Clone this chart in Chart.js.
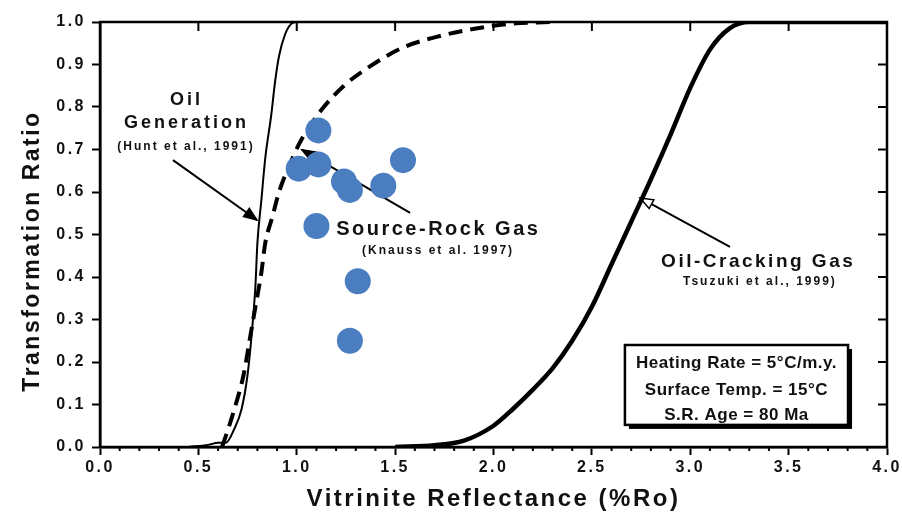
<!DOCTYPE html>
<html lang="en">
<head>
<meta charset="UTF-8">
<title>Transformation Ratio vs Vitrinite Reflectance</title>
<script src="https://cdn.jsdelivr.net/npm/chart.js"></script>
<style>
    body { margin: 0; background: #fff; }
    #wrap { width: 902px; height: 517px; position: relative; }
</style>
</head>
<body>
<div id="wrap"><canvas id="chart"></canvas></div>
<script>
    // Oil generation (Hunt et al., 1991) - thin solid line
    const oilGenX = [0.45, 0.55, 0.60, 0.64, 0.68, 0.72, 0.75, 0.77, 0.79, 0.80, 0.82, 0.84, 0.87, 0.89, 0.91, 0.94, 0.97, 1.00, 4.00];
    const oilGenY = [0.00, 0.005, 0.01, 0.01, 0.04, 0.09, 0.17, 0.26, 0.38, 0.48, 0.58, 0.68, 0.78, 0.86, 0.92, 0.97, 0.995, 1.00, 1.00];

    // Source-rock gas (Knauss et al. 1997) - dashed line
    const srGasX = [0.62, 0.65, 0.69, 0.73, 0.76, 0.79, 0.82, 0.84, 0.875, 0.91, 0.96, 1.02, 1.12, 1.24, 1.37, 1.54, 1.71, 1.88, 2.07, 2.30];
    const srGasY = [0.00, 0.04, 0.10, 0.17, 0.25, 0.33, 0.41, 0.48, 0.54, 0.60, 0.66, 0.72, 0.79, 0.85, 0.895, 0.94, 0.965, 0.982, 0.995, 1.00];

    // Oil-cracking gas (Tsuzuki et al., 1999) - thick solid line
    const crackX = [1.50, 1.70, 1.85, 2.00, 2.10, 2.20, 2.30, 2.40, 2.50, 2.60, 2.70, 2.80, 2.90, 3.00, 3.10, 3.20, 3.30, 4.00];
    const crackY = [0.00, 0.004, 0.015, 0.05, 0.09, 0.135, 0.185, 0.25, 0.33, 0.43, 0.53, 0.63, 0.735, 0.845, 0.935, 0.985, 1.00, 1.00];

    // measured samples (blue dots)
    const sampleX = [1.11, 1.01, 1.11, 1.24, 1.27, 1.44, 1.54, 1.10, 1.31, 1.27];
    const sampleY = [0.745, 0.655, 0.665, 0.625, 0.605, 0.615, 0.675, 0.52, 0.39, 0.25];

    const xTickStep = 0.5;
    const yTickStep = 0.1;

    const FONT = "'Liberation Sans', Arial, sans-serif";

    // text annotations, in data units
    const notes = [
        { text: 'Oil', x: 0.432, y: 0.816, size: 18, sp: 3 },
        { text: 'Generation', x: 0.432, y: 0.763, size: 18, sp: 3 },
        { text: '(Hunt et al., 1991)', x: 0.432, y: 0.706, size: 12, sp: 2 },
        { text: 'Source-Rock Gas', x: 1.713, y: 0.511, size: 20, sp: 2.5 },
        { text: '(Knauss et al. 1997)', x: 1.713, y: 0.461, size: 12, sp: 2 },
        { text: 'Oil-Cracking Gas', x: 3.339, y: 0.435, size: 19, sp: 2.5 },
        { text: 'Tsuzuki et al., 1999)', x: 3.349, y: 0.388, size: 12, sp: 2 }
    ];
    const arrows = [
        { from: [0.371, 0.675], to: [0.798, 0.534], open: false },
        { from: [1.576, 0.551], to: [1.027, 0.699], open: false },
        { from: [3.202, 0.471], to: [2.745, 0.586], open: true }
    ];
    const boxLines = ['Heating Rate = 5°C/m.y.', 'Surface Temp. = 15°C', 'S.R. Age = 80 Ma'];

    function pts(xs, ys) {
        return xs.map((x, i) => ({ x: x, y: ys[i] }));
    }

    function arrowHead(ctx, x1, y1, x2, y2, open) {
        const a = Math.atan2(y2 - y1, x2 - x1);
        const len = 13, half = 5;
        ctx.beginPath();
        ctx.moveTo(x2, y2);
        ctx.lineTo(x2 - len * Math.cos(a) + half * Math.sin(a), y2 - len * Math.sin(a) - half * Math.cos(a));
        ctx.lineTo(x2 - len * Math.cos(a) - half * Math.sin(a), y2 - len * Math.sin(a) + half * Math.cos(a));
        ctx.closePath();
        ctx.fillStyle = open ? '#fff' : '#000';
        ctx.fill();
        ctx.lineWidth = 1.5;
        ctx.stroke();
    }

    const framePlugin = {
        id: 'frame',
        beforeDraw(chart) {
            chart.ctx.letterSpacing = '2.5px';
        },
        beforeDatasetsDraw(chart) {
            const { ctx, chartArea: a, scales: { x, y } } = chart;
            ctx.save();
            ctx.strokeStyle = '#000';
            ctx.lineWidth = 2.5;
            ctx.strokeRect(a.left, a.top, a.right - a.left, a.bottom - a.top);

            // inside ticks on top / right, minor ticks under the x axis
            ctx.lineWidth = 2;
            ctx.beginPath();
            for (let i = 1; i < 40; i++) {
                const px = x.getPixelForValue(i / 10);
                if (i % 5 === 0) {
                    ctx.moveTo(px, a.top);
                    ctx.lineTo(px, a.top + 9);
                } else {
                    ctx.moveTo(px, a.bottom);
                    ctx.lineTo(px, a.bottom + 4);
                }
            }
            for (let i = 1; i < 10; i++) {
                const py = y.getPixelForValue(i / 10);
                ctx.moveTo(a.right, py);
                ctx.lineTo(a.right - 9, py);
            }
            ctx.stroke();

            // arrows
            arrows.forEach(ar => {
                const x1 = x.getPixelForValue(ar.from[0]), y1 = y.getPixelForValue(ar.from[1]);
                const x2 = x.getPixelForValue(ar.to[0]), y2 = y.getPixelForValue(ar.to[1]);
                ctx.lineWidth = 2;
                ctx.beginPath();
                ctx.moveTo(x1, y1);
                ctx.lineTo(x2, y2);
                ctx.stroke();
                arrowHead(ctx, x1, y1, x2, y2, ar.open);
            });

            // labels
            ctx.fillStyle = '#111';
            ctx.textAlign = 'center';
            ctx.textBaseline = 'middle';
            notes.forEach(n => {
                ctx.font = 'bold ' + n.size + 'px ' + FONT;
                ctx.letterSpacing = n.sp + 'px';
                ctx.fillText(n.text, x.getPixelForValue(n.x) + n.sp / 2, y.getPixelForValue(n.y));
            });

            // conditions box
            const bx = x.getPixelForValue(2.668), by = y.getPixelForValue(0.24);
            const bw = x.getPixelForValue(3.802) - bx, bh = y.getPixelForValue(0.052) - by;
            ctx.fillStyle = '#000';
            ctx.fillRect(bx + 4, by + 4, bw, bh);
            ctx.fillStyle = '#fff';
            ctx.fillRect(bx, by, bw, bh);
            ctx.lineWidth = 2.5;
            ctx.strokeRect(bx, by, bw, bh);
            ctx.fillStyle = '#111';
            ctx.font = 'bold 17px ' + FONT;
            ctx.letterSpacing = '0.5px';
            const cx = bx + bw / 2;
            const rows = [0.198, 0.134, 0.075];
            boxLines.forEach((t, i) => {
                ctx.fillText(t, cx, y.getPixelForValue(rows[i]), bw - 10);
            });

            // y axis title
            ctx.font = 'bold 23px ' + FONT;
            ctx.letterSpacing = '2.5px';
            ctx.translate(33, 251);
            ctx.rotate(-Math.PI / 2);
            ctx.fillText('Transformation Ratio', 0, 0);
            ctx.restore();
        }
    };

    const ctx = document.getElementById('chart').getContext('2d');
    const chart = new Chart(ctx, {
        type: 'line',
        data: {
            datasets: [
                {
                    label: 'Samples',
                    data: pts(sampleX, sampleY),
                    showLine: false,
                    pointRadius: 13,
                    pointBackgroundColor: '#4a7ec1',
                    pointBorderWidth: 0,
                    order: 0
                },
                {
                    label: 'Oil Generation',
                    data: pts(oilGenX, oilGenY),
                    borderColor: '#000',
                    borderWidth: 2,
                    pointRadius: 0,
                    cubicInterpolationMode: 'monotone',
                    order: 1
                },
                {
                    label: 'Source-Rock Gas',
                    data: pts(srGasX, srGasY),
                    borderColor: '#000',
                    borderWidth: 4,
                    borderDash: [14, 8],
                    pointRadius: 0,
                    cubicInterpolationMode: 'monotone',
                    order: 2
                },
                {
                    label: 'Oil-Cracking Gas',
                    data: pts(crackX, crackY),
                    borderColor: '#000',
                    borderWidth: 4.5,
                    pointRadius: 0,
                    cubicInterpolationMode: 'monotone',
                    order: 3
                }
            ]
        },
        options: {
            responsive: true,
            maintainAspectRatio: false,
            animation: false,
            layout: { padding: { top: 22, right: 15, left: 0, bottom: 0 } },
            plugins: {
                legend: { display: false },
                tooltip: { enabled: false }
            },
            scales: {
                x: {
                    type: 'linear',
                    min: 0,
                    max: 4,
                    afterFit: s => { s.height = 70; },
                    border: { display: true, color: '#000', width: 2.5 },
                    grid: { drawOnChartArea: false, tickLength: 8, tickColor: '#000', tickWidth: 2 },
                    ticks: {
                        stepSize: xTickStep,
                        autoSkip: false,
                        maxRotation: 0,
                        padding: 3,
                        color: '#111',
                        font: { family: FONT, size: 16, weight: 'bold' },
                        callback: v => v.toFixed(1)
                    },
                    title: {
                        display: true,
                        text: 'Vitrinite Reflectance (%Ro)',
                        color: '#111',
                        font: { family: FONT, size: 24, weight: 'bold' },
                        padding: { top: 0, bottom: 3 }
                    }
                },
                y: {
                    min: 0,
                    max: 1,
                    afterFit: s => { s.width = 100; },
                    border: { display: true, color: '#000', width: 2.5 },
                    grid: { drawOnChartArea: false, tickLength: 8, tickColor: '#000', tickWidth: 2 },
                    ticks: {
                        stepSize: yTickStep,
                        padding: 6,
                        color: '#111',
                        font: { family: FONT, size: 16, weight: 'bold' },
                        callback: v => v.toFixed(1)
                    }
                }
            }
        },
        plugins: [framePlugin]
    });
</script>
</body>
</html>
